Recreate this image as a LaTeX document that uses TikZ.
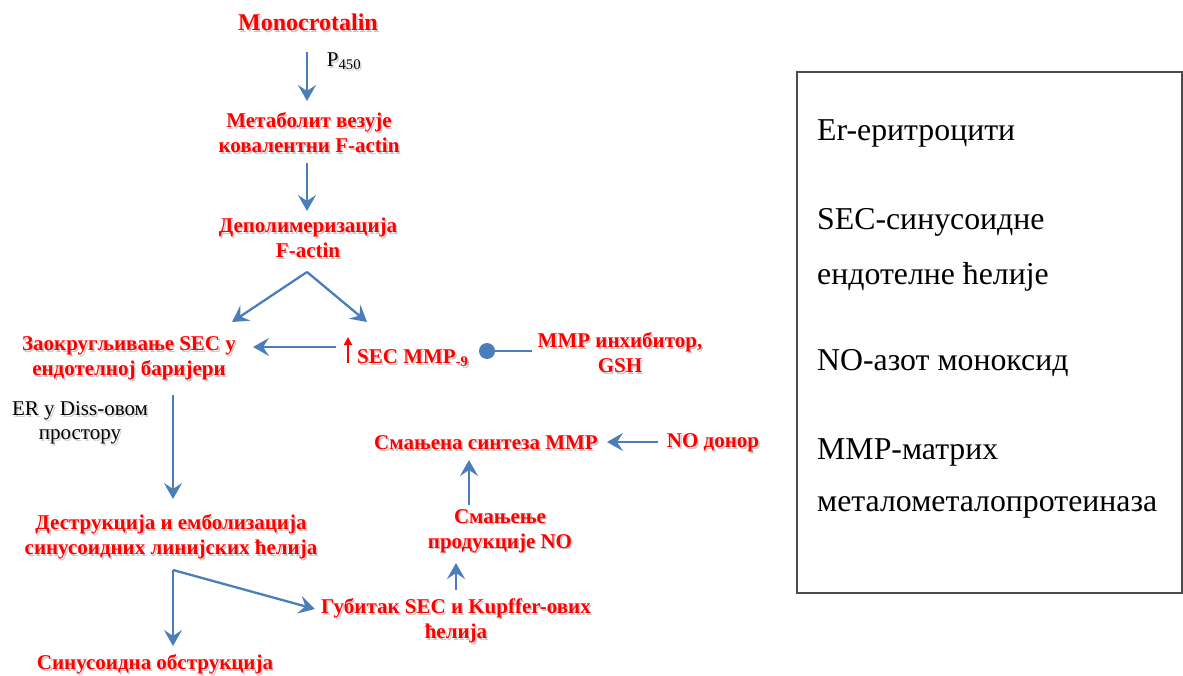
\documentclass[tikz,border=0pt]{standalone}
\usepackage{fontspec}
\setmainfont{Liberation Serif}
\usetikzlibrary{arrows.meta,calc}
\definecolor{arrblue}{HTML}{4A7EBB}
\definecolor{txtred}{HTML}{FF0000}
\tikzset{
  redlbl/.style={text=txtred, font=\bfseries\fontsize{21}{25}\selectfont, align=center, inner sep=0pt},
  blklbl/.style={text=black, font=\fontsize{21}{24}\selectfont, align=center, inner sep=0pt},
  leglbl/.style={text=black, font=\fontsize{31.8}{36}\selectfont, anchor=west, inner sep=0pt},
  conn/.style={draw=arrblue, line width=2.3pt, -{Stealth[length=16pt,width=18pt,inset=6pt]}},
  plainconn/.style={draw=arrblue, line width=2.3pt},
}
\newcommand{\rnode}[4][]{%
  \node[redlbl,#1,text=black!22] (#2-sh) at ($(#3)+(1.6,1.8)$) {#4};
  \node[redlbl,#1] (#2) at (#3) {#4};}
\newcommand{\bnode}[4][]{%
  \node[blklbl,#1,text=black!18] (#2-sh) at ($(#3)+(1.6,1.8)$) {#4};
  \node[blklbl,#1] (#2) at (#3) {#4};}
\begin{document}
\begin{tikzpicture}[x=1pt,y=-1pt]
\useasboundingbox (0,0) rectangle (1183,676);
% nodes
\rnode[font=\bfseries\fontsize{24}{28}\selectfont]{mono}{308,22}{Monocrotalin}
\bnode{p450}{344,61}{P\textsubscript{450}}
\rnode{met}{309,133}{Метаболит везује\\ковалентни F-actin}
\rnode{depol}{308,238}{Деполимеризација\\F-actin}
\rnode{zaok}{129,358}{Заокругљивање SEC у\\ендотелној баријери}
\rnode[anchor=west]{secmmp}{357,358}{SEC MMP\textsubscript{-9}}
\node[circle, fill=arrblue, minimum size=16pt, inner sep=0pt] (dot) at (487,351) {};
\rnode{inh}{620,353}{MMP инхибитор,\\GSH}
\bnode{er}{80,423}{ER у Diss-овом\\простору}
\rnode{destr}{171,537}{Деструкција и емболизација\\синусоидних линијских ћелија}
\rnode{sinus}{155,664}{Синусоидна обструкција}
\rnode{gub}{456,621}{Губитак SEC и Kupffer-ових\\ћелија}
\rnode{smanj}{500,531}{Смањење\\продукције NO}
\rnode{sint}{486,443}{Смањена синтеза ММР}
\rnode{nod}{713,443}{NO донор}
% legend
\draw[draw=black!70, line width=1.2pt] (797,72) rectangle (1182,593);
\node[leglbl] (l1) at (817,133) {Er-еритроцити};
\node[leglbl] (l2) at (817,222) {SEC-синусоидне};
\node[leglbl] (l3) at (817,277) {ендотелне ћелије};
\node[leglbl] (l4) at (817,363) {NO-азот моноксид};
\node[leglbl] (l5) at (817,452) {ММР-матрих};
\node[leglbl] (l6) at (817,507) {металометалопротеиназа};
% connectors
\draw[conn] ($(mono)+(-1,30)$) -- ($(met)+(-2,-32)$);
\draw[conn] ($(met)+(-2,30)$) -- ($(depol)+(-1,-27)$);
\coordinate (fork) at ($(depol)+(-1,34)$);
\draw[conn] (fork) -- ($(zaok)+(103,-36)$);
\draw[conn] (fork) -- ($(secmmp.west)+(10,-36)$);
\draw[conn] ($(secmmp.west)+(-21,-11)$) -- ($(zaok)+(124,-11)$);
\draw[draw=txtred, line width=1.8pt, -{Triangle[length=8pt,width=8pt]}] ($(secmmp.west)+(-9,5)$) -- ($(secmmp.west)+(-9,-21)$);
\draw[plainconn] (dot.center) -- ($(inh.west)+(-6,-2)$);
\draw[conn] ($(zaok)+(44,37)$) -- ($(destr)+(2,-38)$);
\coordinate (fork2) at ($(destr)+(2,33)$);
\draw[conn] (fork2) -- ($(sinus)+(18,-18)$);
\draw[conn] (fork2) -- ($(gub.west)+(-6,-12)$);
\draw[conn] ($(gub)+(0,-31)$) -- ($(smanj)+(-44,32)$);
\draw[conn] ($(smanj)+(-31,-26)$) -- ($(sint)+(-17,17)$);
\draw[conn] ($(nod.west)+(-9,-1)$) -- ($(sint.east)+(9,-1)$);
\end{tikzpicture}
\end{document}
